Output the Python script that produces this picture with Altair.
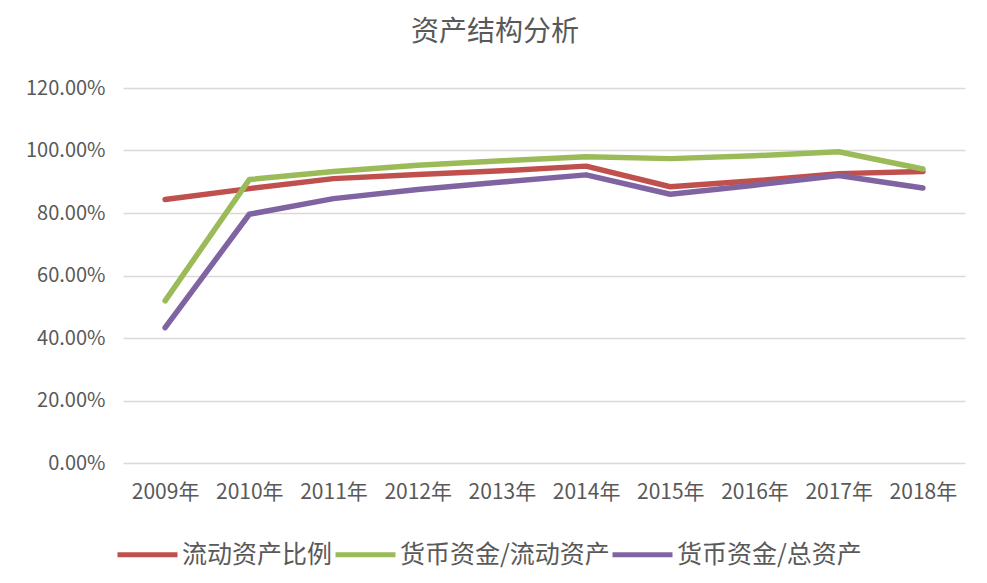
import altair as alt
import pandas as pd

years = ["2009年", "2010年", "2011年", "2012年", "2013年",
         "2014年", "2015年", "2016年", "2017年", "2018年"]
series_names = ["流动资产比例", "货币资金/流动资产", "货币资金/总资产"]
# values in percent
current_asset_ratio = [84.3, 87.8, 91.0, 92.3, 93.5, 95.0, 88.4, 90.3, 92.6, 93.3]
cash_to_current = [51.9, 90.7, 93.3, 95.3, 96.7, 98.0, 97.4, 98.3, 99.6, 94.1]
cash_to_total = [43.3, 79.6, 84.6, 87.5, 89.9, 92.2, 86.0, 88.9, 92.0, 88.0]
y_ticks = [0, 0.2, 0.4, 0.6, 0.8, 1.0, 1.2]
colors = ["#c0504d", "#9bbb59", "#8064a2"]

rows = []
for name, vals in zip(series_names, [current_asset_ratio, cash_to_current, cash_to_total]):
    for yr, v in zip(years, vals):
        rows.append({"年份": yr, "系列": name, "值": v / 100.0})
df = pd.DataFrame(rows)

FONT = "Noto Sans CJK SC"
GRAY = "#595959"

chart = alt.Chart(df).mark_line(
    strokeWidth=5.5, strokeCap="round", strokeJoin="round"
).encode(
    x=alt.X("年份:N", sort=years,
            scale=alt.Scale(type="point", padding=0.5),
            axis=alt.Axis(title=None, labelAngle=0, domain=False, ticks=False,
                          grid=False, labelFontSize=21, labelColor=GRAY,
                          labelFont=FONT, labelPadding=18)),
    y=alt.Y("值:Q", scale=alt.Scale(domain=[0, 1.2], nice=False),
            axis=alt.Axis(title=None, format=".2%", values=y_ticks,
                          domain=False, ticks=False, gridColor="#d9d9d9",
                          gridWidth=1.5, labelFontSize=20, labelColor=GRAY,
                          labelFont=FONT, labelPadding=18)),
    color=alt.Color("系列:N", sort=series_names,
                    scale=alt.Scale(domain=series_names, range=colors),
                    legend=alt.Legend(title=None, orient="none",
                                      legendX=-8, legendY=434,
                                      direction="horizontal",
                                      symbolType="stroke", symbolSize=3600,
                                      symbolStrokeWidth=5,
                                      labelFontSize=25, labelColor=GRAY,
                                      labelFont=FONT, labelOffset=2,
                                      columnPadding=-12, labelLimit=0)),
    order=alt.Order("年份:N")
).properties(
    width=842,
    height=375,
    autosize="none",
    padding={"left": 115, "top": 80, "right": 14, "bottom": 112},
    title=alt.TitleParams(text="资产结构分析", fontSize=28, color=GRAY,
                          font=FONT, fontWeight="normal", anchor="middle",
                          dx=-49, offset=31),
).configure_view(stroke=None)

chart.save("out.html", embed_options={"renderer": "svg", "actions": False})
